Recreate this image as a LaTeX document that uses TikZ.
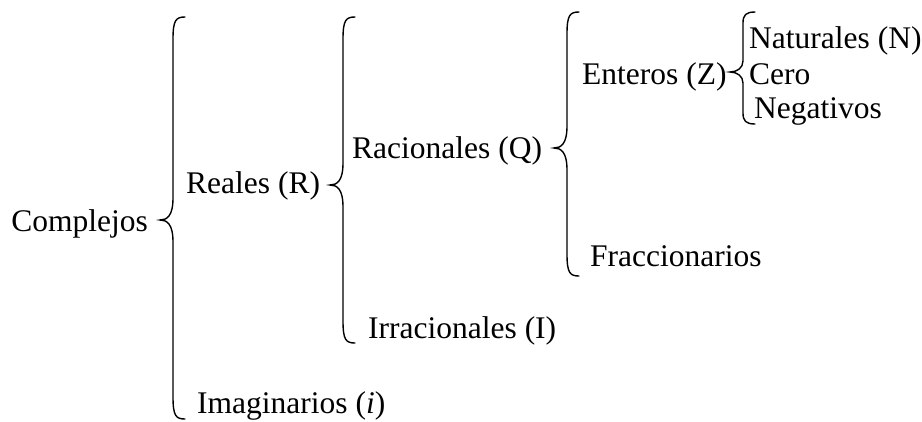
\documentclass[tikz,border=0pt]{standalone}
\usepackage{fontspec}
\setmainfont{Liberation Serif}
\newcommand{\mybrace}[5]{% #1=x of line, #2=top, #3=tip y, #4=bottom, #5=curl size
  \draw[bracestyle] ({#1+12},#2) .. controls ({#1+3},#2) and (#1,{#2+3}) .. (#1,{#2+#5})
    -- (#1,{#3-#5}) .. controls (#1,{#3-4}) and ({#1-6},#3) .. ({#1-13},#3)
    .. controls ({#1-6},#3) and (#1,{#3+4}) .. (#1,{#3+#5})
    -- (#1,{#4-#5}) .. controls (#1,{#4-3}) and ({#1+3},#4) .. ({#1+12},#4);}
\begin{document}
\begin{tikzpicture}[x=1pt,y=-1pt,
  bracestyle/.style={line width=1.4pt, line cap=round},
  lbl/.style={inner sep=0pt, font=\fontsize{31.5}{37}\selectfont}]
\useasboundingbox (0,0) rectangle (922,421);
% braces
\mybrace{173}{17}{220}{419}{22}
\mybrace{343}{17}{185}{343}{22}
\mybrace{567}{12}{148}{276}{22}
\mybrace{743}{12}{72}{124}{11}
% labels
\node[lbl, anchor=base east] (complejos) at (148,231) {Complejos};
\node[lbl, anchor=base west] (reales) at (186,193) {Reales (R)};
\node[lbl, anchor=base west] (imag) at (197,413) {Imaginarios (\textit{i})};
\node[lbl, anchor=base west] (racion) at (352,158) {Racionales (Q)};
\node[lbl, anchor=base west] (irracion) at (368,338) {Irracionales (I)};
\node[lbl, anchor=base west] (enteros) at (582,84) {Enteros (Z)};
\node[lbl, anchor=base west] (fracc) at (590,266) {Fraccionarios};
\node[lbl, anchor=base west] (nat) at (749,48) {Naturales (N)};
\node[lbl, anchor=base west] (cero) at (749,84) {Cero};
\node[lbl, anchor=base west] (neg) at (754,118) {Negativos};
\end{tikzpicture}
\end{document}
